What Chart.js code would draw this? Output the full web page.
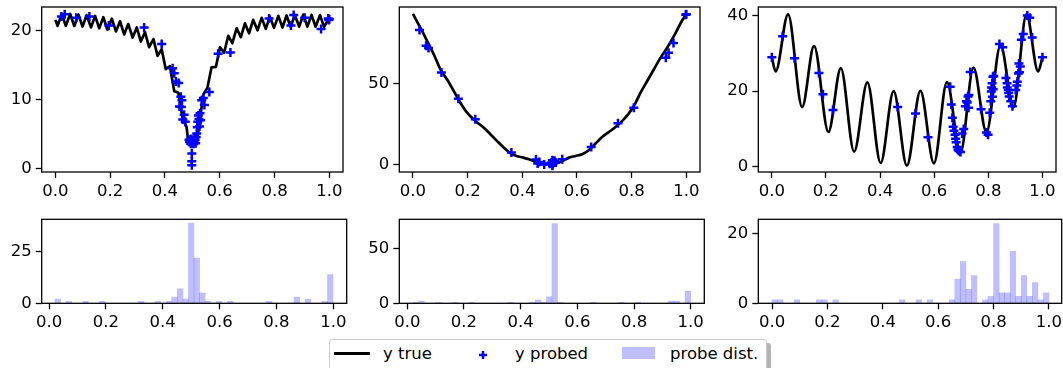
<!DOCTYPE html>
<html>
<head>
<meta charset="utf-8">
<script src="https://cdn.jsdelivr.net/npm/chart.js@4.4.1/dist/chart.umd.min.js"></script>
<style>
body { margin: 0; width: 1063px; height: 368px; overflow: hidden; background: #fff; font-family: "DejaVu Sans", sans-serif; }
canvas { position: absolute; }
#legend { position: absolute; left: 329px; top: 339px; width: 436px; height: 34px; border: 1px solid #cccccc; border-radius: 3px; background: #fff; box-shadow: 4px 4px 0 #b4b4b4; }
#legend div, #legend span, #legend svg { position: absolute; }
#legend span { top: 4px; font-size: 16.5px; line-height: 20px; color: #000; white-space: nowrap; }
</style>
</head>
<body>
<canvas id="tl" width="350" height="200" style="left:0px;top:0px"></canvas>
<canvas id="tm" width="357" height="200" style="left:350px;top:0px"></canvas>
<canvas id="tr" width="356" height="200" style="left:707px;top:0px"></canvas>
<canvas id="bl" width="350" height="135" style="left:0px;top:200px"></canvas>
<canvas id="bm" width="357" height="135" style="left:350px;top:200px"></canvas>
<canvas id="br" width="356" height="135" style="left:707px;top:200px"></canvas>

<div id="legend">
  <div style="left:4px;top:12px;width:36px;height:2.5px;background:#000"></div>
  <span style="left:53px">y true</span>
  <svg style="left:148px;top:10px" width="10" height="10"><path d="M5 1V9M1 5H9" stroke="#0000ff" stroke-width="2.5"/></svg>
  <span style="left:185px">y probed</span>
  <div style="left:292px;top:7px;width:33px;height:12px;background:rgba(0,0,255,0.25)"></div>
  <span style="left:340px">probe dist.</span>
</div>

<script>
// tick labels
const xTicks = [0, 0.2, 0.4, 0.6, 0.8, 1.0];
const tlTicks = [0, 10, 20];
const tmTicks = [0, 50];
const trTicks = [0, 20, 40];
const blTicks = [0, 25];
const bmTicks = [0, 50];
const brTicks = [0, 20];

// left panel: true curve
const tlX = [0, 0.008, 0.023, 0.038, 0.054, 0.069, 0.084, 0.099, 0.114, 0.130, 0.145, 0.160, 0.175, 0.190, 0.206, 0.221, 0.236, 0.251, 0.266, 0.282, 0.297, 0.312, 0.327, 0.342, 0.358, 0.373, 0.388, 0.403, 0.418, 0.434, 0.449, 0.464, 0.479, 0.486, 0.494, 0.510, 0.515, 0.525, 0.540, 0.555, 0.570, 0.586, 0.601, 0.616, 0.631, 0.646, 0.662, 0.677, 0.692, 0.707, 0.722, 0.738, 0.753, 0.768, 0.783, 0.798, 0.814, 0.829, 0.844, 0.859, 0.874, 0.890, 0.905, 0.920, 0.935, 0.950, 0.966, 0.981, 1.0];
const tlY = [21.5, 20.65, 22.35, 20.65, 22.35, 20.62, 22.27, 20.52, 22.17, 20.42, 22.07, 20.28, 21.88, 20.08, 21.68, 19.83, 21.3, 19.4, 20.9, 18.95, 20.4, 18.37, 19.72, 17.55, 18.72, 16.3, 17.25, 14.37, 14.82, 11.18, 10.98, 7.4, 6.0, 3.5, 3.5, 3.5, 3.5, 6.3, 10.7, 11.7, 14.65, 14.7, 17.55, 16.75, 19.2, 18.13, 20.3, 19.0, 21.0, 19.57, 21.5, 20.0, 21.8, 20.2, 21.97, 20.35, 22.08, 20.4, 22.14, 20.47, 22.2, 20.53, 22.25, 20.53, 22.22, 20.51, 22.19, 20.48, 21.8];
// left panel: probes
const tlProbeX = [0.022, 0.034, 0.076, 0.124, 0.195, 0.324, 0.388, 0.428, 0.434, 0.440, 0.450, 0.453, 0.458, 0.460, 0.462, 0.465, 0.470, 0.474, 0.488, 0.490, 0.494, 0.496, 0.498, 0.498, 0.498, 0.500, 0.502, 0.504, 0.506, 0.508, 0.510, 0.512, 0.514, 0.516, 0.518, 0.520, 0.522, 0.524, 0.526, 0.528, 0.530, 0.534, 0.540, 0.544, 0.562, 0.594, 0.639, 0.780, 0.860, 0.870, 0.910, 0.970, 0.996, 0.998, 1.0];
const tlProbeY = [22.0, 22.3, 21.8, 22.0, 20.7, 20.4, 18.0, 14.5, 13.8, 12.6, 12.4, 9.0, 10.4, 8.9, 9.9, 7.1, 7.8, 6.8, 4.2, 3.85, 3.6, 4.3, 2.2, 1.1, 0.5, 3.6, 4.1, 3.6, 3.9, 4.4, 4.2, 3.7, 4.6, 5.1, 6.0, 6.8, 7.7, 7.2, 6.1, 8.0, 7.0, 9.9, 10.2, 9.2, 11.1, 16.6, 16.8, 21.7, 20.7, 22.2, 21.8, 20.2, 21.7, 21.5, 21.6];

// middle panel
const tmX = [0, 0.03, 0.054, 0.078, 0.102, 0.126, 0.15, 0.174, 0.198, 0.228, 0.258, 0.282, 0.306, 0.33, 0.355, 0.379, 0.403, 0.427, 0.45, 0.475, 0.5, 0.523, 0.547, 0.571, 0.595, 0.619, 0.643, 0.667, 0.691, 0.715, 0.739, 0.763, 0.787, 0.811, 0.835, 0.859, 0.883, 0.907, 0.931, 0.955, 0.98, 1.0];
const tmY = [92.7, 83.3, 75.2, 67.1, 58.1, 52.0, 45.0, 37.9, 31.9, 26.8, 22.8, 18.8, 14.7, 10.7, 7.1, 5.2, 4.2, 3.0, 1.6, 0.6, 0, 0.6, 2.2, 4.2, 5.2, 6.3, 8.7, 12.7, 16.7, 19.8, 22.8, 26.4, 30.8, 36.9, 45.0, 52.0, 59.1, 66.1, 72.2, 79.2, 87.3, 92.7];
const tmProbeX = [0.024, 0.048, 0.057, 0.104, 0.166, 0.228, 0.36, 0.45, 0.456, 0.462, 0.48, 0.5, 0.505, 0.51, 0.51, 0.512, 0.516, 0.518, 0.522, 0.546, 0.652, 0.75, 0.808, 0.925, 0.935, 0.953, 0.998, 1.0];
const tmProbeY = [82.9, 73.2, 71.8, 56.7, 40.5, 27.8, 7.3, 3.0, 0.6, 1.5, 0, 0.5, 1.0, 2.6, -0.8, 0.3, 1.6, 2.2, 1.2, 3.2, 10.7, 25.4, 34.9, 65.7, 68.8, 74.8, 92.3, 92.5];

// right panel (extrema of the wave)
const trX = [0, 0.014, 0.06, 0.112, 0.156, 0.209, 0.255, 0.304, 0.353, 0.402, 0.45, 0.499, 0.549, 0.599, 0.647, 0.697, 0.745, 0.793, 0.845, 0.893, 0.941, 0.984, 1.0];
const trY = [29.0, 25.2, 40.3, 15.8, 32.0, 9.2, 26.1, 4.0, 22.3, 1.0, 20.0, 0.3, 20.1, 0.9, 22.4, 3.7, 26.2, 9.1, 32.2, 15.8, 40.3, 25.2, 29.0];
const trProbeX = [0, 0.04, 0.084, 0.174, 0.189, 0.226, 0.465, 0.531, 0.577, 0.659, 0.663, 0.667, 0.67, 0.673, 0.677, 0.679, 0.681, 0.685, 0.688, 0.691, 0.697, 0.703, 0.709, 0.715, 0.719, 0.722, 0.725, 0.727, 0.728, 0.733, 0.773, 0.793, 0.799, 0.805, 0.809, 0.811, 0.812, 0.814, 0.815, 0.817, 0.818, 0.82, 0.841, 0.853, 0.865, 0.869, 0.87, 0.874, 0.875, 0.877, 0.883, 0.889, 0.901, 0.905, 0.907, 0.911, 0.913, 0.915, 0.918, 0.922, 0.929, 0.944, 0.953, 0.962, 1.0];
const trProbeY = [29.0, 34.5, 28.7, 24.8, 19.2, 15.0, 15.8, 14.1, 7.8, 21.2, 16.5, 13.0, 10.6, 9.5, 8.5, 7.4, 6.5, 5.2, 4.6, 4.2, 3.9, 8.8, 10.0, 16.0, 17.3, 17.0, 18.6, 15.6, 19.0, 25.1, 15.2, 9.1, 8.5, 14.3, 17.3, 19.9, 21.0, 22.1, 18.5, 23.8, 20.5, 24.0, 32.5, 31.6, 23.5, 22.1, 21.0, 20.3, 19.5, 18.6, 17.3, 16.0, 20.3, 21.5, 22.5, 24.7, 27.3, 25.0, 26.5, 33.6, 35.1, 40.0, 39.4, 34.2, 29.0];

// probe histograms, 50 bins each
const blStart = 0.021, blWidth = 0.01956;
const blCounts = [2, 0, 1, 0, 0, 1, 0, 0, 1, 0, 0, 0, 0, 0, 0, 1, 0, 0, 1, 0, 1, 3, 7, 2, 39, 22, 5, 1, 0, 1, 0, 1, 0, 0, 0, 0, 0, 0, 1, 0, 0, 0, 0, 3, 0, 2, 0, 0, 1, 14];
const bmStart = 0.021, bmWidth = 0.01958;
const bmCounts = [1, 2, 0, 0, 1, 0, 0, 1, 0, 0, 1, 0, 0, 0, 0, 0, 0, 1, 0, 0, 0, 1, 3, 1, 6, 73, 1, 0, 0, 0, 0, 0, 1, 0, 0, 0, 0, 1, 0, 0, 1, 0, 0, 0, 0, 0, 2, 2, 0, 11];
const brStart = 0, brWidth = 0.02;
const brCounts = [1, 1, 0, 0, 1, 0, 0, 0, 1, 1, 0, 1, 0, 0, 0, 0, 0, 0, 0, 0, 0, 0, 0, 1, 0, 0, 1, 0, 1, 0, 0, 0, 1, 7, 12, 4, 8, 0, 1, 2, 23, 3, 3, 15, 2, 8, 2, 6, 1, 3];

Chart.defaults.font.family = "'DejaVu Sans', sans-serif";
Chart.defaults.font.size = 16.5;
Chart.defaults.color = "#000";

const frame = {
  id: "frame",
  afterDatasetsDraw(chart) {
    const a = chart.chartArea;
    const c = chart.ctx;
    c.save();
    c.strokeStyle = "#000";
    c.lineWidth = 1.3;
    c.strokeRect(a.left, a.top, a.right - a.left, a.bottom - a.top);
    c.restore();
  },
};

function pts(xs, ys) {
  return xs.map((x, i) => ({ x: x, y: ys[i] }));
}

function bins(start, width, counts) {
  return counts.map((c, i) => ({ x: start + (i + 0.5) * width, y: c }));
}

function axes(xr, yr, yTicks, yw, xh) {
  return {
    x: {
      type: "linear",
      min: xr[0],
      max: xr[1],
      offset: false,
      grid: { drawOnChartArea: false, drawTicks: true, tickLength: 6, tickWidth: 1.3, tickColor: "#000", offset: false },
      border: { display: false },
      ticks: { padding: 4, maxRotation: 0, callback: (v) => v.toFixed(1) },
      afterBuildTicks: (s) => { s.ticks = xTicks.map((v) => ({ value: v })); },
      afterFit: (s) => { s.height = xh; s.paddingLeft = 0; s.paddingRight = 0; },
    },
    y: {
      type: "linear",
      min: yr[0],
      max: yr[1],
      grid: { drawOnChartArea: false, drawTicks: true, tickLength: 6, tickWidth: 1.3, tickColor: "#000" },
      border: { display: false },
      ticks: { padding: 4, callback: (v) => String(v) },
      afterBuildTicks: (s) => { s.ticks = yTicks.map((v) => ({ value: v })); },
      afterFit: (s) => { s.width = yw; s.paddingTop = 0; s.paddingBottom = 0; },
    },
  };
}

function topPanel(id, lineData, probeData, smooth, yr, yTicks, yw, padRight) {
  new Chart(document.getElementById(id), {
    type: "scatter",
    data: {
      datasets: [
        {
          data: probeData,
          pointStyle: "cross",
          pointRadius: 4.5,
          pointBorderWidth: 2.5,
          borderColor: "#0000ff",
          backgroundColor: "#0000ff",
          order: 0,
        },
        {
          data: lineData,
          showLine: true,
          borderColor: "#000",
          borderWidth: 2.7,
          borderJoinStyle: "round",
          pointRadius: 0,
          tension: 0,
          cubicInterpolationMode: smooth ? "monotone" : "default",
          order: 1,
        },
      ],
    },
    options: {
      responsive: false,
      animation: false,
      layout: { padding: { top: 4, right: padRight, left: 0, bottom: 0 } },
      plugins: { legend: { display: false }, tooltip: { enabled: false } },
      scales: axes([-0.05, 1.05], yr, yTicks, yw, 28),
    },
    plugins: [frame],
  });
}

function histPanel(id, histData, xr, yr, yTicks, yw, padRight) {
  new Chart(document.getElementById(id), {
    type: "bar",
    data: {
      datasets: [
        {
          data: histData,
          backgroundColor: "rgba(0,0,255,0.25)",
          borderWidth: 0,
          barPercentage: 1,
          categoryPercentage: 1,
        },
      ],
    },
    options: {
      responsive: false,
      animation: false,
      layout: { padding: { top: 19.3, right: padRight, left: 0, bottom: 0 } },
      plugins: { legend: { display: false }, tooltip: { enabled: false } },
      scales: axes(xr, yr, yTicks, yw, 31.7),
    },
    plugins: [frame],
  });
}

topPanel("tl", pts(tlX, tlY), pts(tlProbeX, tlProbeY), false, [-0.47, 23.36], tlTicks, 41.7, 3.3);
topPanel("tm", pts(tmX, tmY), pts(tmProbeX, tmProbeY), true, [-4.66, 97.0], tmTicks, 49.3, 2.7);
topPanel("tr", pts(trX, trY), pts(trProbeX, trProbeY), true, [-1.38, 42.26], trTicks, 51.3, 1.3);

histPanel("bl", bins(blStart, blWidth, blCounts), [-0.0257, 1.0471], [0, 40.9], blTicks, 41.7, 3.3);
histPanel("bm", bins(bmStart, bmWidth, bmCounts), [-0.0282, 1.048], [0, 76.9], bmTicks, 49.3, 2.7);
histPanel("br", bins(brStart, brWidth, brCounts), [-0.0495, 1.046], [0, 24.2], brTicks, 51.3, 1.3);
</script>
</body>
</html>
